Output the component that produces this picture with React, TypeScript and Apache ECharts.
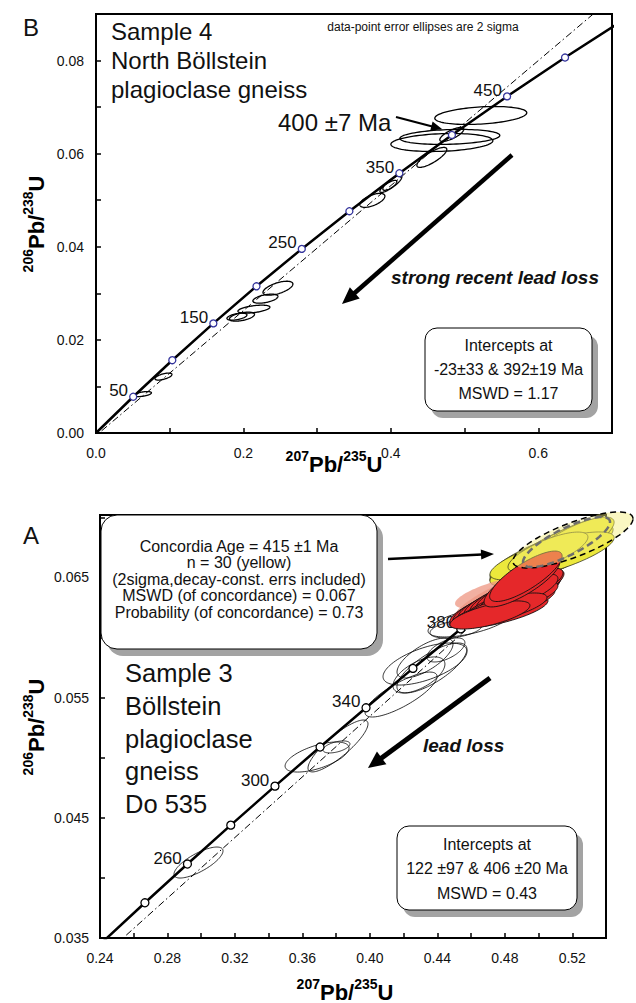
import React, { useEffect, useRef } from 'react';
import * as echarts from 'echarts';

const FONT = '"Liberation Sans", Arial, Helvetica, sans-serif';
const L238 = 1.55125e-10;
const L235 = 9.8485e-10;

// ---------- Panel B (Sample 4, top) ----------
const B_CURVE_AGES = [0, 50, 100, 150, 200, 250, 300, 350, 400, 450, 500, 550, 600];
const B_MARKER_AGES = [50, 100, 150, 200, 250, 300, 350, 400, 450, 500];
const B_LABELED_AGES = [50, 150, 250, 350, 450];
const B_INTERCEPTS = [-23, 392];
const B_X_LABELS = [0, 0.2, 0.4, 0.6];
const B_Y_LABELS = [0, 0.02, 0.04, 0.06, 0.08];
// [207Pb/235U, 2s, 206Pb/238U, 2s, rho]
const B_ELLIPSES = [
  [0.0637, 0.0115, 0.00836, 0.00054, 0.5],
  [0.0915, 0.0115, 0.01212, 0.00075, 0.6],
  [0.1912, 0.0136, 0.02499, 0.00075, 0.5],
  [0.198, 0.017, 0.02499, 0.00097, 0.5],
  [0.2142, 0.0217, 0.0266, 0.00086, 0.5],
  [0.2298, 0.017, 0.02885, 0.00097, 0.5],
  [0.2468, 0.0203, 0.0311, 0.0015, 0.6],
  [0.3749, 0.017, 0.04997, 0.0015, 0.6],
  [0.402, 0.0129, 0.05373, 0.0016, 0.8],
  [0.3966, 0.0115, 0.05298, 0.0013, 0.8],
  [0.4556, 0.0203, 0.0592, 0.00214, 0.8],
  [0.4827, 0.0163, 0.06413, 0.0015, 0.75],
  [0.522, 0.0624, 0.0682, 0.00193, 0.3],
  [0.48, 0.0678, 0.0636, 0.00161, 0.2],
  [0.4692, 0.0692, 0.0624, 0.00193, 0.2],
];

// ---------- Panel A (Sample 3, bottom) ----------
const A_CURVE_AGES = [200, 220, 240, 260, 280, 300, 320, 340, 360, 380, 400, 420, 440, 460];
const A_MARKER_AGES = [240, 260, 280, 300, 320, 340, 360, 380, 400, 420];
const A_LABELED_AGES = [260, 300, 340, 380];
const A_INTERCEPTS = [122, 406];
const A_X_LABELS = [0.24, 0.28, 0.32, 0.36, 0.4, 0.44, 0.48, 0.52];
const A_Y_LABELS = [0.035, 0.045, 0.055, 0.065];
const A_OPEN = [
  [0.2984, 0.01453, 0.04128, 0.00129, 0.75],
  [0.3687, 0.01897, 0.05006, 0.00125, 0.6],
  [0.3811, 0.01779, 0.05098, 0.00216, 0.85],
  [0.3802, 0.008, 0.0509, 0.0005, 0.5],
  [0.4185, 0.02134, 0.05526, 0.00187, 0.8],
  [0.4327, 0.0249, 0.0578, 0.00175, 0.6],
  [0.4291, 0.01541, 0.05689, 0.0015, 0.6],
  [0.4327, 0.0166, 0.0583, 0.00166, 0.7],
  [0.4451, 0.01126, 0.05897, 0.001, 0.6],
  [0.4594, 0.0249, 0.0613, 0.00125, 0.6],
  [0.4511, 0.01541, 0.06071, 0.00075, 0.4],
  [0.4368, 0.02075, 0.05747, 0.00208, 0.75],
];
const A_YELLOW = [
  [0.5068, 0.0356, 0.06687, 0.00225, 0.78],
  [0.5098, 0.0344, 0.06712, 0.00233, 0.8],
  [0.5038, 0.0326, 0.06646, 0.00208, 0.78],
  [0.5127, 0.0308, 0.06745, 0.00233, 0.8],
  [0.5009, 0.0296, 0.06621, 0.00183, 0.75],
  [0.5157, 0.0285, 0.0677, 0.00225, 0.8],
  [0.4979, 0.0267, 0.06596, 0.00166, 0.75],
  [0.5187, 0.0261, 0.06787, 0.00216, 0.8],
  [0.508, 0.0368, 0.06679, 0.002, 0.76],
  [0.5056, 0.0237, 0.06712, 0.00166, 0.75],
];
const A_SALMON = [
  [0.4813, 0.0308, 0.06388, 0.0015, 0.7],
  [0.4772, 0.0285, 0.06313, 0.00216, 0.78],
];
const A_RED = [
  [0.473, 0.0261, 0.06229, 0.0015, 0.75],
  [0.476, 0.0285, 0.06263, 0.00166, 0.76],
  [0.4789, 0.0296, 0.06288, 0.00183, 0.78],
  [0.4819, 0.0296, 0.06313, 0.00183, 0.78],
  [0.4843, 0.0285, 0.06338, 0.00183, 0.77],
  [0.4866, 0.0273, 0.06363, 0.00183, 0.78],
  [0.489, 0.0261, 0.06388, 0.00183, 0.78],
  [0.492, 0.0225, 0.06413, 0.00166, 0.76],
  [0.4771, 0.0285, 0.06213, 0.00133, 0.7],
  [0.4831, 0.0267, 0.06279, 0.0015, 0.74],
  [0.4878, 0.0237, 0.06329, 0.00141, 0.72],
  [0.4937, 0.0178, 0.06396, 0.00133, 0.72],
  [0.4801, 0.0249, 0.06246, 0.00125, 0.7],
  [0.4712, 0.0237, 0.06188, 0.00117, 0.68],
  [0.4902, 0.0225, 0.06463, 0.00208, 0.8],
  [0.4925, 0.0215, 0.0651, 0.0021, 0.8],
];
const A_CONC_AGE_ELLIPSE = [[0.5204, 0.0356, 0.06812, 0.00233, 0.76]];
const A_CONC_AGE_INNER = [[0.5166, 0.0258, 0.06795, 0.00208, 0.8]];

const conc = (ma: number) => [Math.exp(L235 * ma * 1e6) - 1, Math.exp(L238 * ma * 1e6) - 1];

const discordia = (ages: number[], kEnd: number) => {
  const p1 = conc(ages[0]);
  const p2 = conc(ages[1]);
  return [p1, [p1[0] + kEnd * (p2[0] - p1[0]), p1[1] + kEnd * (p2[1] - p1[1])]];
};

const fmt = (labels: number[], digits: number) => (v: number) => {
  const hit = labels.find((l) => Math.abs(l - v) < 1e-7);
  return hit === undefined ? '' : hit.toFixed(digits);
};

function ellipseSeries(data: number[][], gi: number, style: any, z: number) {
  return {
    type: 'custom',
    xAxisIndex: gi,
    yAxisIndex: gi,
    clip: false,
    silent: true,
    z,
    encode: { x: 0, y: 2 },
    data,
    renderItem: (_p: any, api: any) => {
      const cx = api.value(0), sx = api.value(1), cy = api.value(2), sy = api.value(3), r = api.value(4);
      const k = Math.sqrt(Math.max(0, 1 - r * r));
      const pts: number[][] = [];
      for (let i = 0; i < 96; i++) {
        const t = (i / 96) * Math.PI * 2;
        const c = Math.cos(t), s = Math.sin(t);
        pts.push(api.coord([cx + sx * c, cy + sy * (r * c + k * s)]));
      }
      return { type: 'polygon', shape: { points: pts }, style: { ...style } };
    },
  };
}

const axisCommon = (labels: number[], digits: number, margin: number) => ({
  type: 'value',
  axisLine: { show: true, onZero: false, lineStyle: { color: '#000', width: 2 } },
  axisTick: { show: true, inside: true, length: 5, lineStyle: { color: '#000', width: 1.5 } },
  axisLabel: { formatter: fmt(labels, digits), fontSize: 14, color: '#111', fontFamily: FONT, margin },
  splitLine: { show: false },
});

const markerSeries = (ages: number[], labeled: number[], gi: number, color: string, size: number, dy: number) => ({
  type: 'scatter',
  xAxisIndex: gi,
  yAxisIndex: gi,
  z: 3,
  symbol: 'circle',
  symbolSize: size,
  silent: true,
  itemStyle: { color: '#fff', borderColor: color, borderWidth: 1.3, opacity: 1 },
  label: {
    show: false,
    position: 'left',
    distance: 1,
    offset: [0, dy],
    formatter: '{b}',
    fontSize: 17,
    color: '#111',
    fontFamily: FONT,
  },
  data: ages.map((a) => ({ name: String(a), value: conc(a), label: { show: labeled.includes(a) } })),
});

const txt = (x: number, y: number, text: string, size: number, o: any = {}) => ({
  type: 'text',
  x,
  y,
  z: 60,
  silent: true,
  style: {
    text,
    fontSize: size,
    fontFamily: FONT,
    fill: '#111',
    align: o.align || 'left',
    verticalAlign: 'middle',
    fontWeight: o.weight || 'normal',
    fontStyle: o.style || 'normal',
  },
});

const arrow = (x1: number, y1: number, x2: number, y2: number, w: number, hl: number, hw: number) => {
  const dx = x2 - x1, dy = y2 - y1, L = Math.hypot(dx, dy);
  const ux = dx / L, uy = dy / L;
  const bx = x2 - ux * hl, by = y2 - uy * hl;
  const px = -uy, py = ux;
  return [
    { type: 'line', z: 60, silent: true, shape: { x1, y1, x2: bx + ux, y2: by + uy }, style: { stroke: '#000', lineWidth: w } },
    {
      type: 'polygon',
      z: 60,
      silent: true,
      shape: { points: [[x2, y2], [bx + px * hw, by + py * hw], [bx - px * hw, by - py * hw]] },
      style: { fill: '#000' },
    },
  ];
};

const box = (x: number, y: number, w: number, h: number, r: number) => [
  { type: 'rect', z: 50, silent: true, shape: { x: x + 6, y: y + 7, width: w, height: h, r }, style: { fill: '#a3a3a3' } },
  { type: 'rect', z: 51, silent: true, shape: { x, y, width: w, height: h, r }, style: { fill: '#fff', stroke: '#000', lineWidth: 1 } },
];

const axTitle = (x: number, y: number, s1: string, s2: string, rot: number) => ({
  type: 'text',
  x,
  y,
  rotation: rot,
  z: 60,
  silent: true,
  style: {
    text: `{s|${s1}}{m|Pb/}{s|${s2}}{m|U}`,
    align: 'center',
    verticalAlign: 'middle',
    rich: {
      s: { fontSize: 14, fontWeight: 'bold', fontFamily: FONT, verticalAlign: 'top', lineHeight: 14, fill: '#000' },
      m: { fontSize: 22, fontWeight: 'bold', fontFamily: FONT, verticalAlign: 'bottom', lineHeight: 26, fill: '#000' },
    },
  },
});

export default function App() {
  const ref = useRef<HTMLDivElement>(null);
  useEffect(() => {
    if (!ref.current) return;
    const chart = echarts.init(ref.current, null, { renderer: 'svg' });
    const gridStyle = { show: true, borderColor: '#000', borderWidth: 2, backgroundColor: 'transparent', outerBoundsMode: 'none', containLabel: false };
    const option: any = {
      animation: false,
      backgroundColor: '#fff',
      grid: [
        { left: 96, top: 14, width: 516, height: 419, ...gridStyle },
        { left: 100, top: 515, width: 506, height: 423, ...gridStyle },
      ],
      xAxis: [
        { gridIndex: 0, min: 0, max: 0.7, interval: 0.1, ...axisCommon(B_X_LABELS, 1, 13) },
        { gridIndex: 1, min: 0.24, max: 0.54, interval: 0.02, ...axisCommon(A_X_LABELS, 2, 13) },
      ],
      yAxis: [
        { gridIndex: 0, min: 0, max: 0.09, interval: 0.01, ...axisCommon(B_Y_LABELS, 2, 12) },
        { gridIndex: 1, min: 0.035, max: 0.0702, interval: 0.005, ...axisCommon(A_Y_LABELS, 3, 11) },
      ],
      series: [
        // Panel B
        {
          type: 'line', xAxisIndex: 0, yAxisIndex: 0, z: 2, symbol: 'none', silent: true,
          lineStyle: { color: '#000', width: 1, type: [7, 3, 1.5, 3] },
          data: discordia(B_INTERCEPTS, 1.5),
        },
        {
          type: 'line', xAxisIndex: 0, yAxisIndex: 0, z: 2, symbol: 'none', silent: true,
          lineStyle: { color: '#000', width: 2.5 },
          data: B_CURVE_AGES.map(conc),
        },
        ellipseSeries(B_ELLIPSES, 0, { fill: 'none', stroke: '#000', lineWidth: 1.3 }, 2),
        markerSeries(B_MARKER_AGES, B_LABELED_AGES, 0, '#34349c', 7, -6),
        // Panel A
        {
          type: 'line', xAxisIndex: 1, yAxisIndex: 1, z: 2, symbol: 'none', silent: true,
          lineStyle: { color: '#000', width: 1, type: [7, 3, 1.5, 3] },
          data: discordia(A_INTERCEPTS, 1.0),
        },
        {
          type: 'line', xAxisIndex: 1, yAxisIndex: 1, z: 2, symbol: 'none', silent: true,
          lineStyle: { color: '#000', width: 2.5 },
          data: A_CURVE_AGES.map(conc),
        },
        ellipseSeries(A_OPEN, 1, { fill: 'none', stroke: '#000', lineWidth: 0.8 }, 2),
        markerSeries(A_MARKER_AGES, A_LABELED_AGES, 1, '#000', 8, -6),
        ellipseSeries(A_YELLOW, 1, { fill: '#ece83c', stroke: '#3a3a22', lineWidth: 0.8 }, 5),
        ellipseSeries(A_SALMON, 1, { fill: 'rgba(238,150,130,0.75)', stroke: 'none' }, 5),
        ellipseSeries(A_RED, 1, { fill: '#e5282a', stroke: '#111', lineWidth: 0.9 }, 5),
        ellipseSeries(A_CONC_AGE_ELLIPSE, 1, { fill: 'rgba(245,238,120,0.45)', stroke: '#000', lineWidth: 1.5, lineDash: [6, 4] }, 6),
        ellipseSeries(A_CONC_AGE_INNER, 1, { fill: 'none', stroke: '#6e6e6e', lineWidth: 2.5, lineDash: [7, 4] }, 6),
      ],
      graphic: [
        // Panel B
        txt(31, 27, 'B', 24, { align: 'center' }),
        txt(111, 31, 'Sample 4', 24),
        txt(111, 60, 'North Böllstein', 24),
        txt(111, 89, 'plagioclase gneiss', 24),
        txt(423, 27, 'data-point error ellipses are 2 sigma', 12, { align: 'center' }),
        txt(278, 122, '400 ±7 Ma', 24),
        ...arrow(396, 117, 442, 129, 2.2, 11, 5),
        txt(391, 277, 'strong recent lead loss', 19, { weight: 'bold', style: 'italic' }),
        ...arrow(512, 155, 342, 304, 4.5, 17, 7.5),
        ...box(425, 328, 167, 83, 12),
        txt(508.5, 345, 'Intercepts at', 16, { align: 'center' }),
        txt(508.5, 369, '-23±33 & 392±19 Ma', 16, { align: 'center' }),
        txt(508.5, 393, 'MSWD = 1.17', 16, { align: 'center' }),
        axTitle(334, 462, '207', '235', 0),
        axTitle(34, 224, '206', '238', Math.PI / 2),
        // Panel A
        txt(31, 535, 'A', 24, { align: 'center' }),
        ...box(101, 515, 276, 134, 16),
        txt(239, 546, 'Concordia Age = 415 ±1 Ma', 16, { align: 'center' }),
        txt(239, 562.5, 'n = 30 (yellow)', 16, { align: 'center' }),
        txt(239, 579, '(2sigma,decay-const. errs included)', 16, { align: 'center' }),
        txt(239, 595.5, 'MSWD (of concordance) = 0.067', 16, { align: 'center' }),
        txt(239, 612, 'Probability (of concordance) = 0.73', 16, { align: 'center' }),
        ...arrow(388, 559, 494, 554, 2.5, 13, 5),
        txt(125, 673, 'Sample 3', 25.5),
        txt(125, 706, 'Böllstein', 25.5),
        txt(125, 738.5, 'plagioclase', 25.5),
        txt(125, 771, 'gneiss', 25.5),
        txt(125, 804, 'Do 535', 25.5),
        txt(423, 745, 'lead loss', 19, { weight: 'bold', style: 'italic' }),
        ...arrow(490, 678, 368, 768, 5, 17, 8),
        ...box(397, 826, 180, 84, 12),
        txt(487, 844, 'Intercepts at', 16, { align: 'center' }),
        txt(487, 868, '122 ±97 & 406 ±20 Ma', 16, { align: 'center' }),
        txt(487, 893, 'MSWD = 0.43', 16, { align: 'center' }),
        axTitle(345, 990, '207', '235', 0),
        axTitle(34, 727, '206', '238', Math.PI / 2),
      ],
    };
    chart.setOption(option);
    return () => chart.dispose();
  }, []);
  return <div ref={ref} style={{ position: 'absolute', left: 0, top: 0, width: 636, height: 1003 }} />;
}
